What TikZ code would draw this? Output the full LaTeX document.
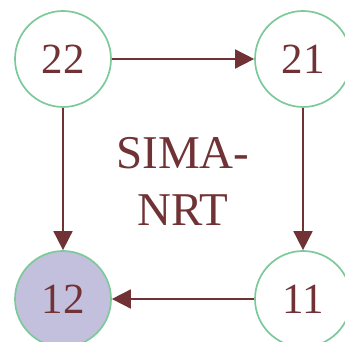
\documentclass[tikz,border=0pt]{standalone}
\usepackage{fontspec}
\setmainfont{Liberation Serif}
\usetikzlibrary{arrows.meta}
\definecolor{ink}{RGB}{112,50,52}
\definecolor{ring}{RGB}{124,201,154}
\definecolor{lav}{RGB}{195,192,221}
\begin{document}
\begin{tikzpicture}[x=1pt,y=1pt,
  st/.style={circle,draw=ring,line width=1.7pt,minimum size=96pt,inner sep=0pt,text=ink,font=\fontsize{43}{43}\selectfont},
  arr/.style={draw=ink,line width=1.7pt,-{Triangle[length=19pt,width=19pt]}}]
\useasboundingbox (0,0) rectangle (345,342);
\begin{scope}
\clip (0,0) rectangle (345,342);
\node[st] (n22) at (63,283) {22};
\node[st] (n21) at (303,283) {21};
\node[st,fill=lav] (n12) at (63,43) {12};
\node[st] (n11) at (303,43) {11};
\end{scope}
\node[text=ink,align=center,font=\fontsize{47}{57}\selectfont] (lbl) at (183,161) {SIMA-\\NRT};
\draw[arr] (n22) -- (n21);
\draw[arr] (n22) -- (n12);
\draw[arr] (n21) -- (n11);
\draw[arr] (n11) -- (n12);
\end{tikzpicture}
\end{document}
